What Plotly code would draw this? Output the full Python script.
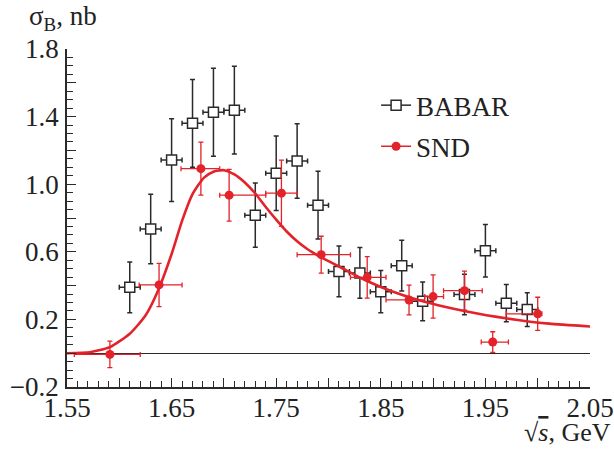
import plotly.graph_objects as go

# ---------------- data ----------------
babar_x = [1.61, 1.63, 1.65, 1.67, 1.69, 1.71, 1.73, 1.75, 1.77, 1.79,
           1.81, 1.83, 1.85, 1.87, 1.89, 1.93, 1.95, 1.97, 1.99]
babar_y = [0.39, 0.735, 1.143, 1.36, 1.426, 1.438, 0.817, 1.065, 1.137, 0.876,
           0.484, 0.475, 0.364, 0.518, 0.307, 0.347, 0.606, 0.296, 0.258]
babar_yerr = [0.15, 0.205, 0.245, 0.26, 0.26, 0.26, 0.19, 0.22, 0.22, 0.2,
              0.15, 0.15, 0.125, 0.15, 0.115, 0.12, 0.155, 0.11, 0.10]
babar_xerr = [0.01] * len(babar_x)

snd_x = [1.591, 1.638, 1.678, 1.705, 1.755, 1.793, 1.837, 1.877, 1.900, 1.930, 1.957, 2.000]
snd_y = [-0.007, 0.404, 1.092, 0.935, 0.947, 0.583, 0.449, 0.315, 0.335, 0.370, 0.066, 0.233]
snd_yerr = [0.078, 0.128, 0.157, 0.153, 0.196, 0.109, 0.123, 0.088, 0.128, 0.116, 0.061, 0.098]
snd_xerr_plus = [0.029, 0.022, 0.018, 0.035, 0.015, 0.028, 0.018, 0.015, 0.010, 0.017, 0.015, 0.004]
snd_xerr_minus = [0.034, 0.019, 0.019, 0.009, 0.015, 0.023, 0.016, 0.022, 0.008, 0.020, 0.011, 0.030]

fit_x = [1.550, 1.572, 1.591, 1.610, 1.625, 1.637, 1.650, 1.660, 1.670, 1.681,
         1.690, 1.700, 1.710, 1.720, 1.730, 1.740, 1.750, 1.760, 1.770, 1.780,
         1.790, 1.800, 1.811, 1.831, 1.850, 1.870, 1.890, 1.910, 1.931, 1.951,
         1.971, 1.991, 2.011, 2.050]
fit_y = [0.000, 0.006, 0.036, 0.115, 0.223, 0.370, 0.587, 0.783, 0.941, 1.039,
         1.074, 1.083, 1.058, 1.010, 0.945, 0.865, 0.790, 0.720, 0.662, 0.615,
         0.578, 0.545, 0.510, 0.445, 0.392, 0.346, 0.307, 0.276, 0.248, 0.225,
         0.205, 0.188, 0.175, 0.158]

x_tickvals = [1.55, 1.60, 1.65, 1.70, 1.75, 1.80, 1.85, 1.90, 1.95, 2.00, 2.05]
x_ticktext = ["1.55", "", "1.65", "", "1.75", "", "1.85", "", "1.95", "", "2.05"]
y_tickvals = [-0.2, 0.0, 0.2, 0.4, 0.6, 0.8, 1.0, 1.2, 1.4, 1.6, 1.8]
y_ticktext = ["\u22120.2", "", "0.2", "", "0.6", "", "1.0", "", "1.4", "", "1.8"]

# ---------------- style ----------------
RED = "#e3222a"
BLACK = "#2a2a2a"
TXT = "#222222"
FONT = "Liberation Serif"
FS = 27

fig = go.Figure()

fig.add_trace(go.Scatter(
    x=babar_x, y=babar_y, mode="markers", showlegend=False,
    marker=dict(symbol="square", size=10, color="white",
                line=dict(color=BLACK, width=1.5)),
    error_y=dict(type="data", array=babar_yerr, color=BLACK, thickness=1.5, width=2.5),
    error_x=dict(type="data", array=babar_xerr, color=BLACK, thickness=1.5, width=2.5),
))

fig.add_trace(go.Scatter(
    x=fit_x, y=fit_y, mode="lines", showlegend=False,
    line=dict(color=RED, width=2.6, shape="spline", smoothing=0.6),
))

fig.add_trace(go.Scatter(
    x=snd_x, y=snd_y, mode="markers", showlegend=False,
    marker=dict(symbol="circle", size=9, color=RED),
    error_y=dict(type="data", array=snd_yerr, color=RED, thickness=1.3, width=2.5),
    error_x=dict(type="data", array=snd_xerr_plus, arrayminus=snd_xerr_minus,
                 color=RED, thickness=1.3, width=2.5),
))

# legend-only entries
fig.add_trace(go.Scatter(
    x=[None], y=[None], mode="lines+markers", name="BABAR", legendgroup="a",
    marker=dict(symbol="square", size=10, color="white", line=dict(color=BLACK, width=1.5)),
    line=dict(color=BLACK, width=1.5),
))
fig.add_trace(go.Scatter(
    x=[None], y=[None], mode="lines+markers", name="SND", legendgroup="b",
    marker=dict(symbol="circle", size=9, color=RED),
    line=dict(color=RED, width=1.5),
))

axis_common = dict(
    showline=True, linecolor=BLACK, linewidth=1.5,
    ticks="inside", tickcolor=BLACK, tickwidth=1.3, ticklen=9,
    showgrid=False, tickfont=dict(family=FONT, size=FS, color=TXT),
    tickmode="array", automargin=False,
)

fig.update_xaxes(
    range=[1.55, 2.05], tickvals=x_tickvals, ticktext=x_ticktext,
    zeroline=False, ticklabelstandoff=-4,
    minor=dict(dtick=0.01, tick0=1.55, ticks="inside", ticklen=6,
               tickcolor=BLACK, tickwidth=1.2, showgrid=False),
    **axis_common,
)
fig.update_yaxes(
    range=[-0.2, 1.8], tickvals=y_tickvals, ticktext=y_ticktext,
    zeroline=True, zerolinecolor=BLACK, zerolinewidth=1.3, ticklabelstandoff=1,
    minor=dict(dtick=0.05, tick0=-0.2, ticks="inside", ticklen=6,
               tickcolor=BLACK, tickwidth=1.2, showgrid=False),
    **axis_common,
)

fig.update_layout(
    width=614, height=453,
    margin=dict(l=67, r=24, t=49, b=66),
    paper_bgcolor="white", plot_bgcolor="white",
    font=dict(family=FONT, size=FS, color=TXT),
    legend=dict(x=0.591, y=0.905, xanchor="left", yanchor="top",
                bgcolor="rgba(0,0,0,0)", traceorder="grouped",
                tracegroupgap=3, font=dict(family=FONT, size=FS, color=TXT)),
    annotations=[
        dict(text="σ<sub>B</sub>, nb", xref="paper", yref="paper",
             x=-0.077, y=1.092, xanchor="left", yanchor="middle",
             showarrow=False, font=dict(family=FONT, size=FS, color=TXT)),
        dict(text="√<span style='text-decoration:overline'><i>s</i></span>, GeV",
             xref="paper", yref="paper",
             x=1.044, y=-0.136, xanchor="right", yanchor="middle",
             showarrow=False, font=dict(family=FONT, size=26, color=TXT)),
    ],
)

fig.write_html("out.html",
               config={"displayModeBar": False},
               post_script="document.body.style.margin='0';document.body.style.overflow='hidden';")
